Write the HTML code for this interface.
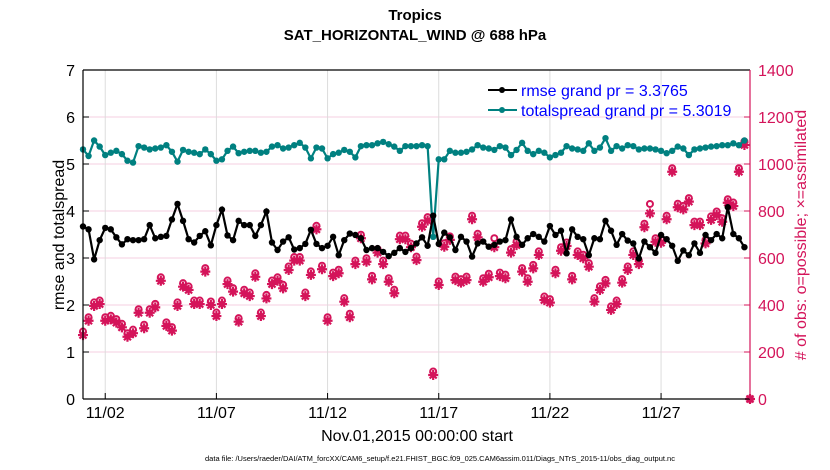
<!DOCTYPE html>
<html><head><meta charset="utf-8"><style>
body{margin:0;background:#fff;}
svg{display:block;font-family:"Liberation Sans",sans-serif;}
</style></head><body>
<svg id="chart" width="830" height="470" viewBox="0 0 830 470" xmlns="http://www.w3.org/2000/svg">
<text x="415" y="20" text-anchor="middle" font-size="15" font-weight="bold">Tropics</text>
<text x="415" y="40" text-anchor="middle" font-size="15" font-weight="bold">SAT_HORIZONTAL_WIND @ 688 hPa</text>
<g id="grid"></g>
<g id="series"></g>
<g id="axes"></g>
<text transform="translate(64,235) rotate(-90)" text-anchor="middle" font-size="16">rmse and totalspread</text>
<text transform="translate(806,235) rotate(-90)" text-anchor="middle" font-size="16" fill="#d4145a">#  of obs: o=possible; ×=assimilated</text>
<text x="417" y="441" text-anchor="middle" font-size="16">Nov.01,2015 00:00:00 start</text>
<text x="440" y="461" text-anchor="middle" font-size="7.5">data file: /Users/raeder/DAI/ATM_forcXX/CAM6_setup/f.e21.FHIST_BGC.f09_025.CAM6assim.011/Diags_NTrS_2015-11/obs_diag_output.nc</text>
<g>
<line x1="488" y1="90" x2="517" y2="90" stroke="#000" stroke-width="2"/><circle cx="502" cy="90" r="3" fill="#000"/>
<text x="521" y="96" font-size="16" fill="#0000ff">rmse grand pr = 3.3765</text>
<line x1="488" y1="110" x2="517" y2="110" stroke="#008080" stroke-width="2"/><circle cx="502" cy="110" r="3" fill="#008080"/>
<text x="521" y="116" font-size="16" fill="#0000ff">totalspread grand pr = 5.3019</text>
</g>
</svg>
<script>
const rmse=[3.67,3.61,2.97,3.38,3.64,3.61,3.44,3.29,3.40,3.38,3.38,3.40,3.70,3.42,3.45,3.47,3.82,4.15,3.79,3.40,3.33,3.47,3.57,3.27,3.70,4.03,3.48,3.38,3.79,3.70,3.70,
3.47,3.70,3.99,3.33,3.17,3.35,3.44,3.18,3.21,3.30,3.60,3.30,3.21,3.26,3.45,3.06,3.38,3.52,3.49,3.42,3.17,3.21,3.21,3.13,3.04,3.11,3.21,3.13,3.21,3.31,
3.44,3.26,3.9,3.30,3.54,3.44,3.17,3.45,3.35,3.03,3.31,3.35,3.24,3.28,3.35,3.38,3.82,3.45,3.28,3.42,3.51,3.45,3.35,3.68,3.49,3.58,3.10,3.61,
3.45,3.40,3.06,3.42,3.40,3.79,3.58,3.28,3.51,3.37,3.31,2.99,3.35,3.23,3.11,3.49,3.40,3.26,2.94,3.16,3.06,3.31,3.11,3.49,3.38,3.51,3.42,4.08,3.51,3.42,3.23];
const spread=[5.31,5.17,5.50,5.37,5.19,5.24,5.28,5.21,5.07,5.03,5.38,5.35,5.31,5.33,5.35,5.40,5.26,5.05,5.30,5.26,5.24,5.21,5.31,5.21,5.07,5.10,5.28,5.37,5.23,5.26,5.28,
5.28,5.24,5.26,5.37,5.40,5.33,5.35,5.40,5.45,5.35,5.12,5.35,5.33,5.12,5.21,5.24,5.30,5.26,5.14,5.38,5.40,5.40,5.44,5.47,5.42,5.37,5.28,5.38,5.38,5.38,
5.40,5.38,3.45,5.10,5.10,5.28,5.24,5.24,5.26,5.31,5.40,5.35,5.33,5.30,5.38,5.35,5.19,5.30,5.45,5.28,5.21,5.28,5.24,5.14,5.19,5.24,5.38,5.33,
5.31,5.28,5.44,5.28,5.35,5.55,5.28,5.38,5.33,5.40,5.38,5.31,5.33,5.33,5.31,5.28,5.23,5.28,5.37,5.33,5.19,5.31,5.33,5.35,5.37,5.38,5.40,5.40,5.44,5.40,5.50];
const obsPossible=[287,348,411,419,348,354,340,320,280,295,382,316,382,405,518,326,306,411,493,479,419,419,557,415,368,419,504,472,344,465,453,
535,368,443,504,518,486,564,604,604,453,543,737,567,348,538,550,429,363,589,699,599,524,638,589,514,465,695,695,661,606,
748,774,117,500,663,692,521,510,521,780,703,514,533,684,538,529,638,670,557,514,571,628,436,425,550,646,666,524,
628,614,578,429,479,507,394,419,510,564,628,589,746,830,684,680,780,982,831,822,855,755,755,677,777,798,769,850,836,982,1096,0];
const obsAssim=[272,333,396,404,333,339,325,305,265,280,367,301,367,390,503,311,291,396,478,464,404,404,542,400,353,404,489,457,329,450,438,
520,353,428,489,503,471,549,589,589,438,528,722,552,333,523,535,414,348,574,684,584,509,623,574,499,450,680,680,646,591,
733,759,102,485,648,677,506,495,506,765,688,499,518,646,523,514,623,655,542,499,556,613,421,410,535,631,651,509,
613,599,563,414,464,492,379,404,495,549,613,574,731,790,669,665,765,967,816,807,840,740,740,662,762,783,754,835,821,967,1081,0];
const leftTicks=[0,1,2,3,4,5,6,7];
const rightTicks=[0,200,400,600,800,1000,1200,1400];
const dateTickDays=[1,6,11,16,21,26];
const dateTickLabels=["11/02","11/07","11/12","11/17","11/22","11/27"];
const stepDays=0.25;

const X0=83,X1=750,Y0=399,Y1=70,DAYS=30;
const xs=d=>X0+(X1-X0)*d/DAYS;
const yl=v=>Y0-(Y0-Y1)*v/7;
const yr=c=>Y0-(Y0-Y1)*c/1400;
const NS="http://www.w3.org/2000/svg";
function mk(tag,attrs,parent){const e=document.createElementNS(NS,tag);for(const k in attrs)e.setAttribute(k,attrs[k]);parent.appendChild(e);return e;}
const grid=document.getElementById('grid'),axes=document.getElementById('axes'),ser=document.getElementById('series');
const MAG="#d4145a";
leftTicks.forEach(v=>{const y=yl(v);
 if(v>0&&v<7){const l=mk('line',{x1:X0,x2:X1,y1:y,y2:y,stroke:'#f5cfe0','stroke-width':1},grid);
 }
 const t=mk('line',{x1:X0,x2:X0+6,y1:y,y2:y,stroke:'#000'},axes);
 
 const tx=mk('text',{x:X0-8,y:y+6,'text-anchor':'end','font-size':16},axes);tx.textContent=v;
 });
rightTicks.forEach(c=>{const y=yr(c);
 const t=mk('line',{x1:X1-6,x2:X1,y1:y,y2:y,stroke:MAG},axes);
 
 const tx=mk('text',{x:X1+8,y:y+6,'font-size':16,fill:MAG},axes);tx.textContent=c;
 });
dateTickDays.forEach((d,i)=>{const x=xs(d);
 const g=mk('line',{x1:x,x2:x,y1:Y1,y2:Y0,stroke:'#dcdcdc'},grid);
 
 const t=mk('line',{x1:x,x2:x,y1:Y0-6,y2:Y0,stroke:'#000'},axes);
 
 const tx=mk('text',{x:x,y:Y0+19,'text-anchor':'middle','font-size':16},axes);tx.textContent=dateTickLabels[i];
 });
const frame=[[X0,Y1,X1,Y1,'#000'],[X0,Y0,X1,Y0,'#000'],[X0,Y1,X0,Y0,'#000'],[X1,Y1,X1,Y0,MAG]];
frame.forEach(f=>{const l=mk('line',{x1:f[0],y1:f[1],x2:f[2],y2:f[3],stroke:f[4],'stroke-width':1.2},axes);
 });
function obsMarkers(arr,kind){arr.forEach((c,i)=>{const x=xs(i*stepDays),y=yr(c);
 if(kind==='o'){const e=mk('circle',{cx:x,cy:y,r:3,fill:'none',stroke:MAG,'stroke-width':2},ser);
  }
 else{const e=mk('path',{d:`M${x-5} ${y}H${x+5}M${x} ${y-5}V${y+5}M${x-3.5} ${y-3.5}L${x+3.5} ${y+3.5}M${x-3.5} ${y+3.5}L${x+3.5} ${y-3.5}`,stroke:MAG,'stroke-width':2.2},ser);
  }});}
obsMarkers(obsAssim,'*');obsMarkers(obsPossible,'o');
function lineSeries(arr,color,name){
 const p=mk('polyline',{points:arr.map((v,i)=>xs(i*stepDays)+','+yl(v)).join(' '),fill:'none',stroke:color,'stroke-width':2.2},ser);
 
 arr.forEach((v,i)=>{const c=mk('circle',{cx:xs(i*stepDays),cy:yl(v),r:3.2,fill:color},ser);
  });}
lineSeries(spread,'#008080','totalspread');
lineSeries(rmse,'#000000','rmse');
</script>
</body></html>
